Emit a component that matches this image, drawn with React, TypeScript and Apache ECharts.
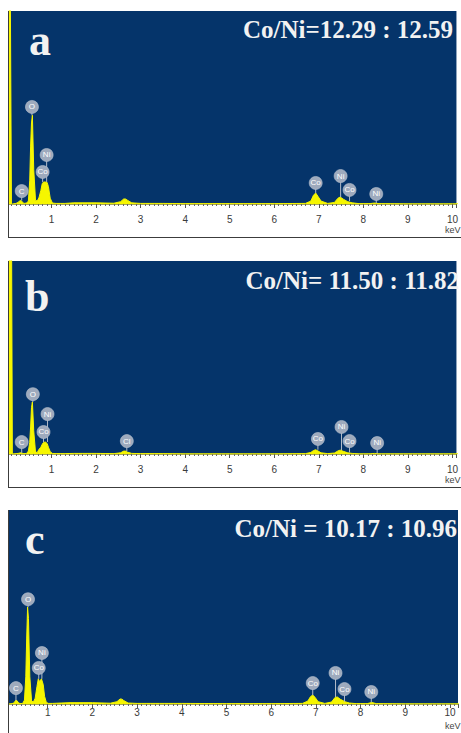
import React, { useEffect, useRef } from 'react';
import * as echarts from 'echarts';

// Energy axis (keV), shared by the three spectra
const energy = [0.00, 0.03, 0.05, 0.07, 0.10, 0.12, 0.20, 0.25, 0.28, 0.31, 0.34, 0.38, 0.44, 0.48, 0.51, 0.53, 0.55, 0.57, 0.60, 0.64, 0.68, 0.72, 0.76, 0.79, 0.82, 0.86, 0.90, 0.93, 0.97, 1.02, 1.10, 1.30, 1.50, 2.00, 2.40, 2.55, 2.62, 2.66, 2.70, 2.80, 3.00, 3.50, 4.00, 5.00, 6.00, 6.70, 6.82, 6.88, 6.93, 6.98, 7.05, 7.20, 7.35, 7.43, 7.48, 7.55, 7.65, 7.75, 7.90, 8.15, 8.25, 8.35, 9.00, 10.00, 10.20];

// Counts (relative, % of full scale)
const countsA = [0, 0, 130, 130, 0, 0, 0.3, 0.8, 1.6, 1.8, 1.2, 0.3, 0.5, 1.5, 12, 30, 42, 46, 18, 2, 1.5, 3.5, 7, 10.5, 11.4, 11.4, 11.2, 9, 3, 0.5, 0.3, 0.3, 0.6, 0.6, 0.4, 1.2, 2.6, 2.6, 2, 0.6, 0.3, 0.3, 0.2, 0.2, 0.2, 0.3, 1.5, 4.5, 5.7, 4, 1.5, 0.3, 0.8, 3, 3.6, 2.5, 1.2, 0.6, 0.2, 0.2, 0.5, 0.2, 0.1, 0.1, 0.1];
const countsB = [0, 0, 130, 130, 130, 0, 0.2, 0.3, 0.5, 0.6, 0.4, 0.2, 0.3, 1.5, 6, 14, 24, 27, 12, 1, 0.8, 2.5, 3.5, 5, 6, 6.2, 5.5, 3.5, 1.2, 0.3, 0.2, 0.2, 0.3, 0.3, 0.2, 0.6, 1.5, 1.5, 1, 0.3, 0.2, 0.2, 0.1, 0.1, 0.1, 0.2, 0.8, 1.8, 2.2, 1.6, 0.6, 0.2, 0.5, 1.6, 2, 1.4, 0.6, 0.3, 0.1, 0.1, 0.3, 0.1, 0.1, 0.1, 0.1];
const countsC = [0, 0, 0, 0, 0, 0, 0.2, 0.6, 1.8, 1.8, 0.8, 0.2, 0.3, 2, 14, 34, 50, 44, 14, 1.5, 1, 3, 9, 13, 11.5, 13, 10, 4, 0.8, 0.3, 0.3, 0.5, 0.7, 0.7, 0.4, 1.2, 2.6, 2.5, 1.8, 0.5, 0.3, 0.3, 0.3, 0.2, 0.2, 0.3, 1.5, 3.8, 4.6, 3.5, 1.2, 0.3, 1, 3.4, 3.6, 2.4, 1.2, 0.5, 0.2, 0.2, 0.8, 0.2, 0.1, 0.1, 0.1];

// Element markers: [element, keV, marker height, peak height]
const labelsA: [string, number, number, number][] = [
  ['C', 0.33, 6.7, 1.8], ['O', 0.56, 50.3, 46], ['Ni', 0.89, 25.4, 11.4], ['Co', 0.80, 16.6, 11.4],
  ['Co', 6.93, 10.9, 5.7], ['Ni', 7.49, 14.5, 3.6], ['Co', 7.69, 7.3, 1.5], ['Ni', 8.29, 5.2, 0.5],
];
const labelsB: [string, number, number, number][] = [
  ['C', 0.33, 6.2, 0.6], ['O', 0.58, 31, 27], ['Ni', 0.91, 20.7, 6.2], ['Co', 0.82, 11.4, 6.2],
  ['Cl', 2.69, 6.7, 1.5], ['Co', 6.98, 7.8, 2.2], ['Ni', 7.51, 14, 2], ['Co', 7.69, 6.7, 0.8], ['Ni', 8.31, 5.7, 0.3],
];
const labelsC: [string, number, number, number][] = [
  ['C', 0.29, 8.2, 1.8], ['O', 0.56, 54, 50], ['Ni', 0.87, 26.3, 13], ['Co', 0.80, 18.6, 13],
  ['Co', 6.93, 10.8, 4.6], ['Ni', 7.44, 16, 3.6], ['Co', 7.64, 7.7, 1.2], ['Ni', 8.24, 6.2, 0.8],
];

const panelLetters = ['a', 'b', 'c'];
const ratioTexts = ['Co/Ni=12.29 : 12.59', 'Co/Ni= 11.50 : 11.82', 'Co/Ni = 10.17 : 10.96'];
const tickUnit = 'keV';

const W = 461;
const H = 733;
const PX_PER_KEV = 45;
const BLUE = '#05346a';
const YELLOW = '#f6f600';

const panels = [
  { top: 11, height: 193, x0: 7, frameBottom: 238, letterX: 29, letterY: 40, ratioX: 453, ratioY: 29, labelMargin: 10, kevY: 230, counts: countsA, labels: labelsA },
  { top: 261, height: 193, x0: 7, frameBottom: 488, letterX: 25, letterY: 296, ratioX: 459, ratioY: 280, labelMargin: 10, kevY: 480, counts: countsB, labels: labelsB },
  { top: 510, height: 194, x0: 3, frameBottom: 733, letterX: 25, letterY: 539, ratioX: 457, ratioY: 528, labelMargin: 3, kevY: 726, counts: countsC, labels: labelsC },
];

export default function App() {
  const ref = useRef<HTMLDivElement>(null);

  useEffect(() => {
    if (!ref.current) return;
    const chart = echarts.init(ref.current, undefined, { renderer: 'svg', width: W, height: H });

    const grid: any[] = [];
    const xAxis: any[] = [];
    const yAxis: any[] = [];
    const series: any[] = [];
    const graphic: any[] = [];

    panels.forEach((p, i) => {
      grid.push({
        left: p.x0,
        top: p.top,
        width: W - p.x0,
        height: p.height,
        show: true,
        backgroundColor: BLUE,
        borderWidth: 0,
      });
      xAxis.push({
        type: 'value',
        gridIndex: i,
        min: 0,
        max: +((W - p.x0) / PX_PER_KEV).toFixed(2),
        interval: 1,
        axisLine: { show: true, onZero: false, lineStyle: { color: '#a8a850', width: 1 } },
        axisTick: { show: true, length: 4, lineStyle: { color: '#555' } },
        minorTick: { show: true, splitNumber: 10, length: 2, lineStyle: { color: '#666' } },
        splitLine: { show: false },
        axisLabel: {
          margin: p.labelMargin,
          fontSize: 10,
          color: '#3a3a3a',
          fontFamily: '"Liberation Sans", Arial, sans-serif',
          formatter: (v: number) => (Math.abs(v - Math.round(v)) < 1e-6 && v >= 1 ? String(Math.round(v)) : ''),
        },
      });
      yAxis.push({ type: 'value', gridIndex: i, min: 0, max: 100, show: false });

      series.push({
        type: 'line',
        xAxisIndex: i,
        yAxisIndex: i,
        data: energy.map((e, k) => [e, p.counts[k]]),
        showSymbol: false,
        symbol: 'none',
        clip: true,
        lineStyle: { color: YELLOW, width: 1 },
        areaStyle: { color: YELLOW, opacity: 1 },
        z: 2,
      });

      const labs = p.labels;
      series.push({
        type: 'custom',
        xAxisIndex: i,
        yAxisIndex: i,
        clip: false,
        z: 3,
        data: labs.map((l) => [l[1], l[2], l[3]]),
        encode: { x: 0, y: 1 },
        renderItem: (params: any, api: any) => {
          const c = api.coord([api.value(0), api.value(1)]);
          const b = api.coord([api.value(0), api.value(2)]);
          const name = labs[params.dataIndex][0];
          return {
            type: 'group',
            children: [
              { type: 'line', shape: { x1: c[0], y1: c[1], x2: b[0], y2: b[1] }, style: { stroke: '#b4bdca', lineWidth: 1 } },
              { type: 'circle', shape: { cx: c[0], cy: c[1], r: 6.5 }, style: { fill: '#9eaabd', stroke: '#b9c2d0', lineWidth: 0.6 } },
              {
                type: 'text',
                x: c[0],
                y: c[1],
                style: { text: name, fill: '#ffffff', fontSize: 8, fontFamily: '"Liberation Sans", Arial, sans-serif', align: 'center', verticalAlign: 'middle' },
              },
            ],
          };
        },
      });

      // frame pieces
      graphic.push({ type: 'rect', shape: { x: 0, y: p.top, width: 8, height: p.frameBottom - p.top }, style: { fill: '#ffffff' }, z: 100 });
      graphic.push({ type: 'line', shape: { x1: 8.5, y1: p.top, x2: 8.5, y2: p.frameBottom }, style: { stroke: '#3c3c3c', lineWidth: 1 }, z: 101 });
      if (p.frameBottom < H) {
        graphic.push({ type: 'line', shape: { x1: 8, y1: p.frameBottom - 0.5, x2: W, y2: p.frameBottom - 0.5 }, style: { stroke: '#3c3c3c', lineWidth: 1 }, z: 101 });
      }
      graphic.push({
        type: 'text', x: p.letterX, y: p.letterY, z: 102,
        style: { text: panelLetters[i], fill: '#f2f2f2', font: 'bold 44px "Liberation Serif", "Times New Roman", serif', align: 'left', verticalAlign: 'middle' },
      });
      graphic.push({
        type: 'text', x: p.ratioX, y: p.ratioY, z: 102,
        style: { text: ratioTexts[i], fill: '#f2f2f2', font: 'bold 25px "Liberation Serif", "Times New Roman", serif', align: 'right', verticalAlign: 'middle' },
      });
      graphic.push({
        type: 'text', x: 445, y: p.kevY, z: 102,
        style: { text: tickUnit, fill: '#444', font: '9px "Liberation Sans", Arial, sans-serif', align: 'left', verticalAlign: 'middle' },
      });
    });

    chart.setOption({
      animation: false,
      backgroundColor: '#ffffff',
      grid,
      xAxis,
      yAxis,
      series,
      graphic,
    });

    return () => chart.dispose();
  }, []);

  return <div ref={ref} style={{ position: 'fixed', left: 0, top: 0, width: W, height: H }} />;
}
